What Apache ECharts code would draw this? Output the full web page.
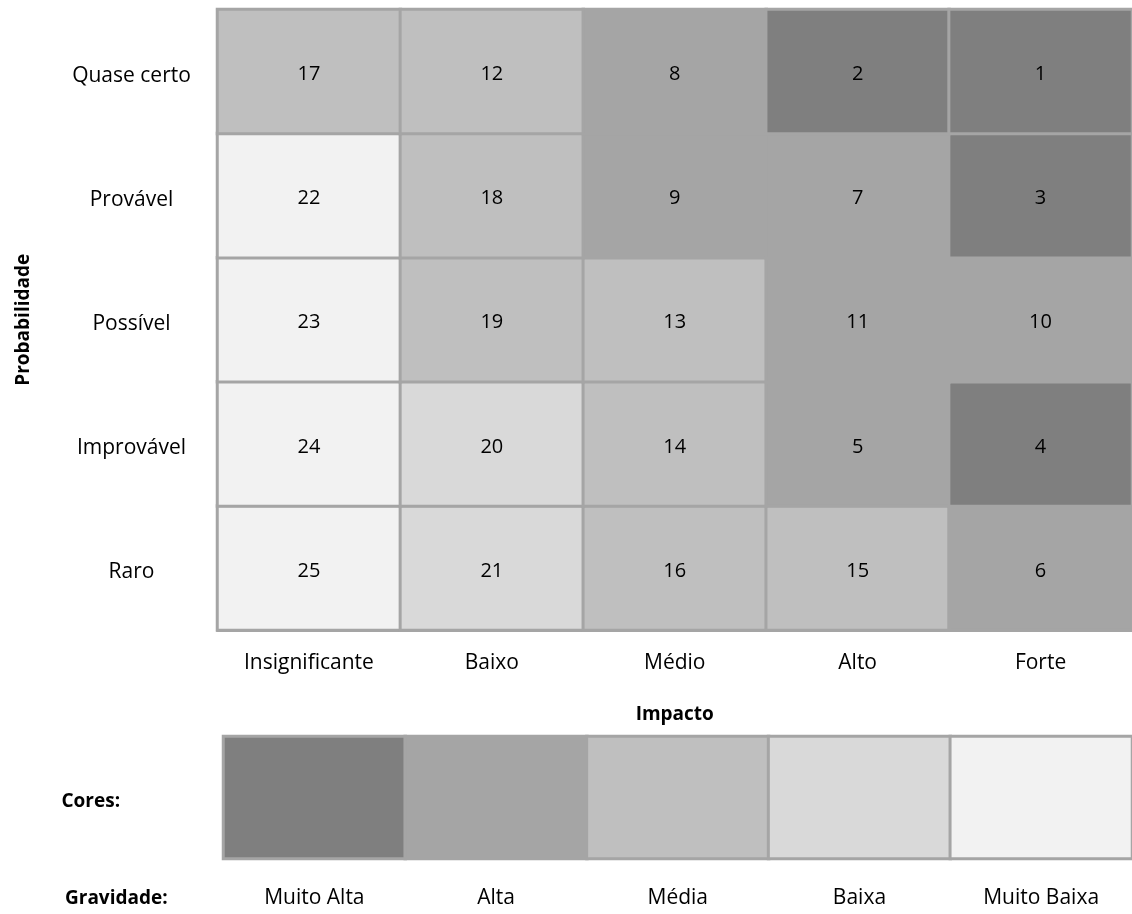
<!DOCTYPE html>
<html>
<head>
<meta charset="utf-8">
<script src="https://cdn.jsdelivr.net/npm/echarts@6/dist/echarts.min.js"></script>
<style>
html,body{margin:0;padding:0;background:#fff;}
#chart{width:1132px;height:914px;}
</style>
</head>
<body>
<div id="chart"></div>
<script>
// Categories
var impactCategories = ['Insignificante', 'Baixo', 'Médio', 'Alto', 'Forte'];
// bottom to top
var probabilityCategories = ['Raro', 'Improvável', 'Possível', 'Provável', 'Quase certo'];

// Risk rank per cell, rows listed top (Quase certo) to bottom (Raro), columns Insignificante..Forte
var rowQuaseCerto = [17, 12, 8, 2, 1];
var rowProvavel   = [22, 18, 9, 7, 3];
var rowPossivel   = [23, 19, 13, 11, 10];
var rowImprovavel = [24, 20, 14, 5, 4];
var rowRaro       = [25, 21, 16, 15, 6];

// Severity legend
var severityLabels = ['Muito Alta', 'Alta', 'Média', 'Baixa', 'Muito Baixa'];
var severityColors = ['#7f7f7f', '#a5a5a5', '#bfbfbf', '#d9d9d9', '#f2f2f2'];
// rank ranges mapped to each severity
var severityMin = [1, 5, 12, 20, 22];
var severityMax = [4, 11, 19, 21, 25];

var rowsBottomToTop = [rowRaro, rowImprovavel, rowPossivel, rowProvavel, rowQuaseCerto];
var cellData = [];
rowsBottomToTop.forEach(function (row, y) {
  row.forEach(function (v, x) { cellData.push([x, y, v]); });
});
var pieces = severityColors.map(function (c, i) {
  return { min: severityMin[i], max: severityMax[i], color: c };
});
var legendData = severityLabels.map(function (s, i) {
  return { value: [i, 0, i], itemStyle: { color: severityColors[i] } };
});

var FONT = 'Open Sans';
var chart = echarts.init(document.getElementById('chart'), null, { renderer: 'canvas' });
chart.setOption({
  animation: false,
  backgroundColor: '#ffffff',
  textStyle: { fontFamily: FONT },
  title: {
    text: 'Gravidade:',
    left: 60, top: 884,
    textStyle: { fontFamily: FONT, fontWeight: 'bold', fontSize: 19, color: '#000' }
  },
  grid: [
    { left: 217.5, top: 9.5, width: 920, height: 620.5 },
    { left: 223.5, top: 736.5, width: 915, height: 122 }
  ],
  xAxis: [
    {
      type: 'category', gridIndex: 0, data: impactCategories, position: 'bottom',
      axisLine: { show: true, lineStyle: { color: '#a5a5a5', width: 3 } },
      axisTick: { show: false }, splitLine: { show: false },
      axisLabel: { margin: 23, fontSize: 21, color: '#000', fontFamily: FONT },
      name: 'Impacto', nameLocation: 'middle', nameGap: 75,
      nameTextStyle: { fontWeight: 'bold', fontSize: 19, color: '#000', fontFamily: FONT }
    },
    {
      type: 'category', gridIndex: 1, data: severityLabels, position: 'bottom',
      axisLine: { show: false }, axisTick: { show: false }, splitLine: { show: false },
      axisLabel: { margin: 29, fontSize: 21, color: '#000', fontFamily: FONT }
    }
  ],
  yAxis: [
    {
      type: 'category', gridIndex: 0, data: probabilityCategories,
      axisLine: { show: true, lineStyle: { color: '#a5a5a5', width: 3 } },
      axisTick: { show: false }, splitLine: { show: false },
      axisLabel: {
        margin: 86, align: 'center', color: '#000',
        formatter: function (v) { return '{a|' + v + '}'; },
        rich: { a: { fontSize: 21, color: '#000', fontFamily: FONT, padding: [8, 0, 0, 0] } }
      },
      name: 'Probabilidade', nameLocation: 'middle', nameRotate: 90, nameGap: 184,
      nameTextStyle: { fontWeight: 'bold', fontSize: 19, color: '#000', fontFamily: FONT }
    },
    {
      type: 'category', gridIndex: 1, data: ['Cores:'],
      axisLine: { show: false }, axisTick: { show: false }, splitLine: { show: false },
      axisLabel: {
        margin: 162, align: 'left', color: '#000',
        formatter: function (v) { return '{b|' + v + '}'; },
        rich: { b: { fontSize: 19, fontWeight: 'bold', color: '#000', fontFamily: FONT, padding: [8, 0, 0, 0] } }
      }
    }
  ],
  visualMap: {
    type: 'piecewise', show: false, seriesIndex: 0, dimension: 2, pieces: pieces
  },
  series: [
    {
      type: 'heatmap', xAxisIndex: 0, yAxisIndex: 0, data: cellData,
      label: { show: true, color: '#000', fontSize: 20, fontFamily: FONT, offset: [0, 3] },
      itemStyle: { borderColor: '#a5a5a5', borderWidth: 3 },
      emphasis: { disabled: true }
    },
    {
      type: 'heatmap', xAxisIndex: 1, yAxisIndex: 1, data: legendData,
      label: { show: false },
      itemStyle: { borderColor: '#a5a5a5', borderWidth: 3 },
      emphasis: { disabled: true }
    }
  ]
});
</script>
</body>
</html>
